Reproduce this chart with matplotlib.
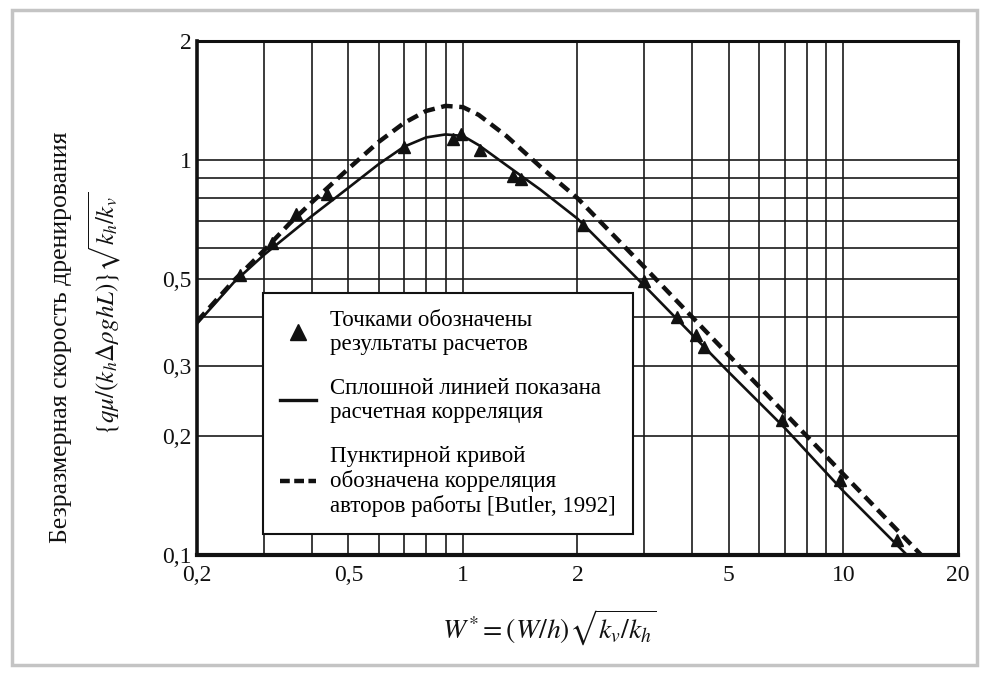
import matplotlib
matplotlib.use("Agg")
import matplotlib.pyplot as plt
from matplotlib.lines import Line2D
from matplotlib.patches import Rectangle
from matplotlib.ticker import FixedLocator, NullFormatter

plt.rcParams['font.family'] = ['Liberation Serif', 'DejaVu Serif']
plt.rcParams['mathtext.fontset'] = 'stix'

# computed drainage rates (points)
pts_w = [0.26, 0.315, 0.365, 0.44, 0.70, 0.94, 0.99, 1.11, 1.35, 1.42,
         2.07, 3.0, 3.65, 4.1, 4.3, 6.9, 9.8, 13.8]
pts_q = [0.51, 0.615, 0.73, 0.82, 1.08, 1.13, 1.16, 1.06, 0.91, 0.895,
         0.685, 0.495, 0.40, 0.36, 0.337, 0.22, 0.155, 0.109]

# fitted correlation (solid)
corr_w = [0.2, 0.25, 0.3, 0.4, 0.5, 0.6, 0.7, 0.8, 0.9, 1.0, 1.1, 1.3,
          1.6, 2.0, 3.0, 5.0, 7.0, 10, 15]
corr_q = [0.385, 0.49, 0.575, 0.72, 0.85, 0.975, 1.08, 1.14, 1.16, 1.15,
          1.09, 0.97, 0.84, 0.71, 0.48, 0.29, 0.21, 0.145, 0.098]

# Butler (1992) correlation (dashed)
butler_w = [0.2, 0.25, 0.3, 0.35, 0.4, 0.5, 0.6, 0.7, 0.8, 0.9, 1.0, 1.1,
            1.3, 1.6, 2.0, 3.0, 5.0, 7.0, 10, 16.5]
butler_q = [0.39, 0.495, 0.59, 0.69, 0.78, 0.95, 1.11, 1.24, 1.33, 1.37,
            1.36, 1.30, 1.15, 0.96, 0.80, 0.535, 0.32, 0.229, 0.16, 0.097]

x_major = [0.2, 0.5, 1, 2, 5, 10, 20]
x_labels = ['0,2', '0,5', '1', '2', '5', '10', '20']
x_minor = [0.3, 0.4, 0.6, 0.7, 0.8, 0.9, 3, 4, 6, 7, 8, 9]
y_major = [0.1, 0.2, 0.3, 0.5, 1, 2]
y_labels = ['0,1', '0,2', '0,3', '0,5', '1', '2']
y_minor = [0.4, 0.6, 0.7, 0.8, 0.9]

fig = plt.figure(figsize=(9.92, 6.75), dpi=100)
fig.patches.append(Rectangle((0.012, 0.015), 0.973, 0.97, transform=fig.transFigure,
                             fill=False, edgecolor='#c4c4c4', linewidth=2.5))

ax = fig.add_axes([0.1986, 0.1778, 0.7671, 0.7615])
ax.set_xscale('log')
ax.set_yscale('log')
ax.set_xlim(0.2, 20)
ax.set_ylim(0.1, 2)

ax.xaxis.set_major_locator(FixedLocator(x_major))
ax.xaxis.set_minor_locator(FixedLocator(x_minor))
ax.yaxis.set_major_locator(FixedLocator(y_major))
ax.yaxis.set_minor_locator(FixedLocator(y_minor))
ax.set_xticklabels(x_labels)
ax.set_yticklabels(y_labels)
ax.xaxis.set_minor_formatter(NullFormatter())
ax.yaxis.set_minor_formatter(NullFormatter())
ax.tick_params(which='both', length=0, labelsize=17, colors='#111111')
ax.tick_params(axis='x', pad=7)
ax.tick_params(axis='y', pad=4)
ax.grid(which='both', color='#1a1a1a', linewidth=1.2)
ax.set_axisbelow(True)

for side, lw in [('left', 2.6), ('bottom', 3.0), ('top', 2.2), ('right', 2.0)]:
    ax.spines[side].set_linewidth(lw)
    ax.spines[side].set_color('#111111')

ax.plot(butler_w, butler_q, color='#111111', linewidth=3.2, dashes=(2.6, 1.5))
ax.plot(corr_w, corr_q, color='#111111', linewidth=1.9)
ax.plot(pts_w, pts_q, linestyle='none', marker='^', markersize=9, color='#111111')

handles = [
    Line2D([], [], linestyle='none', marker='^', markersize=11, color='#111111'),
    Line2D([], [], color='#111111', linewidth=2.4),
    Line2D([], [], color='#111111', linewidth=3.2, dashes=(2.2, 1.0)),
]
labels = [
    'Точками обозначены\nрезультаты расчетов',
    'Сплошной линией показана\nрасчетная корреляция',
    'Пунктирной кривой\nобозначена корреляция\nавторов работы [Butler, 1992]',
]
leg = ax.legend(handles, labels, loc='upper left', bbox_to_anchor=(0.087, 0.51),
                borderaxespad=0, fontsize=16.5, frameon=True, fancybox=False,
                edgecolor='#111111', framealpha=1, handlelength=1.55,
                handletextpad=0.6, labelspacing=1.0, borderpad=0.75)
leg.get_frame().set_linewidth(1.5)
leg.set_zorder(5)
for t in leg.get_texts():
    t.set_linespacing(1.18)

fig.text(0.061, 0.50, 'Безразмерная скорость дренирования', rotation=90,
         ha='center', va='center', fontsize=18.5, color='#111111')
fig.text(0.106, 0.536, r'$\{q\mu/(k_h\Delta\rho g h L)\}\sqrt{k_h/k_v}$',
         rotation=90, ha='center', va='center', fontsize=18, color='#111111')
fig.text(0.554, 0.07, r'$W^{*}=(W/h)\sqrt{k_v/k_h}$', ha='center', va='center',
         fontsize=20, color='#111111')

fig.savefig('out.png', dpi=100, facecolor='white')
